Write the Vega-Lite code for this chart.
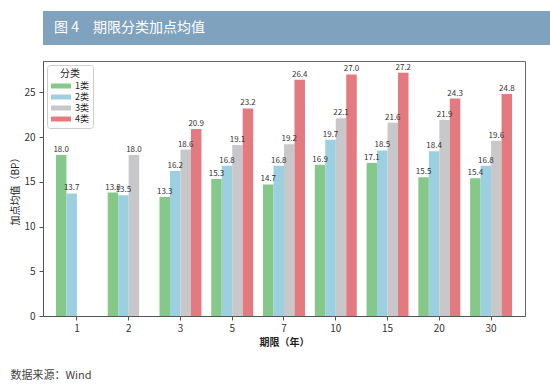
{
  "$schema": "https://vega.github.io/schema/vega-lite/v6.json",
  "background": "white",
  "padding": {"left": 10, "top": 11, "right": 9, "bottom": 0},
  "config": {
    "font": "Noto Sans CJK SC",
    "concat": {"spacing": 15},
    "axis": {"domainColor": "#555", "tickColor": "#555", "tickSize": 4, "labelFontSize": 10, "labelColor": "#333", "titleFontSize": 10, "titleColor": "#222", "titleFontWeight": "normal", "grid": false},
    "title": {"fontSize": 11, "fontWeight": "normal", "color": "#444"}
  },
  "title": {"text": "数据来源：Wind", "orient": "bottom", "anchor": "start", "frame": "bounds", "offset": 22},
  "resolve": {"legend": {"color": "independent"}},
  "columns": 1,
  "align": "none",
  "bounds": "full",
  "concat": [
    {
      "width": 531,
      "height": 34,
      "view": {"fill": "#7fa2bf", "stroke": null},
      "data": {"values": [{"t": "图 4　期限分类加点均值"}]},
      "mark": {"type": "text", "align": "left", "baseline": "middle", "color": "white", "fontSize": 14, "dx": 11},
      "encoding": {
        "text": {"field": "t"},
        "x": {"datum": 0, "type": "quantitative", "scale": {"domain": [0, 1]}, "axis": null}
      }
    },
    {
      "width": 482,
      "height": 255,
      "view": {"stroke": "#666", "strokeWidth": 1},
      "data": {"values": [
        {"term": "1", "cls": "1类", "v": 18.0},
        {"term": "1", "cls": "2类", "v": 13.7},
        {"term": "2", "cls": "1类", "v": 13.8},
        {"term": "2", "cls": "2类", "v": 13.5},
        {"term": "2", "cls": "3类", "v": 18.0},
        {"term": "3", "cls": "1类", "v": 13.3},
        {"term": "3", "cls": "2类", "v": 16.2},
        {"term": "3", "cls": "3类", "v": 18.6},
        {"term": "3", "cls": "4类", "v": 20.9},
        {"term": "5", "cls": "1类", "v": 15.3},
        {"term": "5", "cls": "2类", "v": 16.8},
        {"term": "5", "cls": "3类", "v": 19.1},
        {"term": "5", "cls": "4类", "v": 23.2},
        {"term": "7", "cls": "1类", "v": 14.7},
        {"term": "7", "cls": "2类", "v": 16.8},
        {"term": "7", "cls": "3类", "v": 19.2},
        {"term": "7", "cls": "4类", "v": 26.4},
        {"term": "10", "cls": "1类", "v": 16.9},
        {"term": "10", "cls": "2类", "v": 19.7},
        {"term": "10", "cls": "3类", "v": 22.1},
        {"term": "10", "cls": "4类", "v": 27.0},
        {"term": "15", "cls": "1类", "v": 17.1},
        {"term": "15", "cls": "2类", "v": 18.5},
        {"term": "15", "cls": "3类", "v": 21.6},
        {"term": "15", "cls": "4类", "v": 27.2},
        {"term": "20", "cls": "1类", "v": 15.5},
        {"term": "20", "cls": "2类", "v": 18.4},
        {"term": "20", "cls": "3类", "v": 21.9},
        {"term": "20", "cls": "4类", "v": 24.3},
        {"term": "30", "cls": "1类", "v": 15.4},
        {"term": "30", "cls": "2类", "v": 16.8},
        {"term": "30", "cls": "3类", "v": 19.6},
        {"term": "30", "cls": "4类", "v": 24.8}
      ]},
      "encoding": {
        "x": {"field": "term", "type": "ordinal", "sort": ["1", "2", "3", "5", "7", "10", "15", "20", "30"],
              "scale": {"paddingInner": 0.19, "paddingOuter": 0.25},
              "axis": {"title": "期限（年）", "labelAngle": 0, "labelPadding": 3, "titlePadding": 4, "titleFontWeight": "bold"}},
        "y": {"field": "v", "type": "quantitative", "scale": {"domain": [0, 28.5], "nice": false},
              "axis": {"values": [0, 5, 10, 15, 20, 25], "title": "加点均值（BP）", "labelPadding": 4, "titlePadding": 3}},
        "xOffset": {"field": "cls", "type": "nominal", "scale": {"domain": ["1类", "2类", "3类", "4类"], "paddingInner": 0, "paddingOuter": 0}}
      },
      "layer": [
        {
          "mark": {"type": "bar"},
          "encoding": {
            "color": {"field": "cls", "type": "nominal",
                      "scale": {"domain": ["1类", "2类", "3类", "4类"], "range": ["#86c88a", "#9ccfe0", "#c8c8ca", "#e27a80"]},
                      "legend": {"title": "分类", "orient": "top-left", "offset": 4, "titleAnchor": "middle", "titleAlign": "center",
                                 "symbolType": "M-2,-0.5H2V0.5H-2Z", "symbolSize": 100, "symbolStrokeWidth": 0, "symbolOffset": 5,
                                 "strokeColor": "#cccccc", "fillColor": "white", "padding": 4, "cornerRadius": 3,
                                 "labelFontSize": 9, "labelColor": "#222", "titleFontSize": 10, "titleFontWeight": "normal", "titleColor": "#222",
                                 "rowPadding": 1, "labelOffset": 9, "titlePadding": 2}}
          }
        },
        {
          "mark": {"type": "text", "baseline": "bottom", "dy": -1, "fontSize": 8, "color": "#333"},
          "encoding": {"text": {"field": "v", "type": "quantitative", "format": ".1f"}}
        }
      ]
    }
  ]
}
